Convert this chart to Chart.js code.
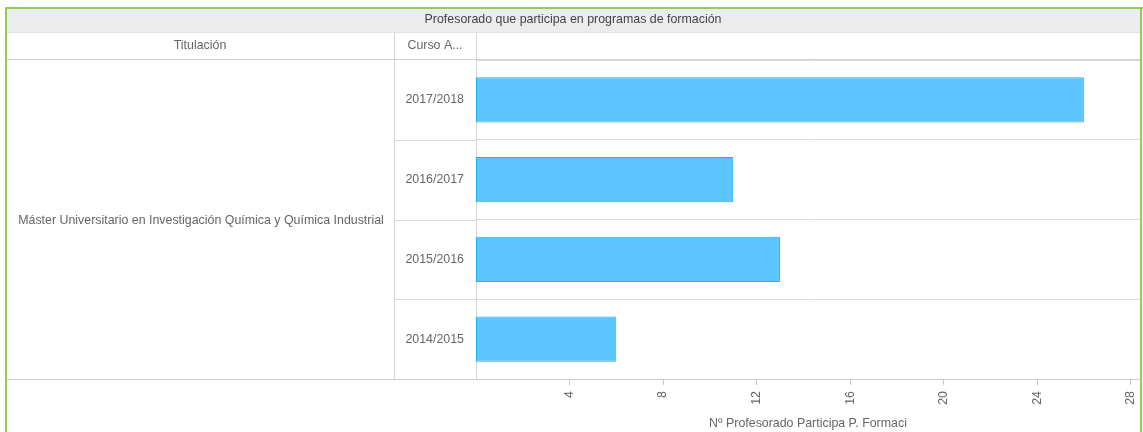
<!DOCTYPE html>
<html>
<head>
<meta charset="utf-8">
<script src="https://cdn.jsdelivr.net/npm/chart.js@4"></script>
<style>
  html, body { margin: 0; padding: 0; background: #fff; }
  #wrap { position: relative; width: 1143px; height: 432px; overflow: hidden; }
  canvas { position: absolute; left: 0; top: 0; }
</style>
</head>
<body>
<div id="wrap"><canvas id="chart" width="1143" height="432"></canvas></div>
<script>
// Data
var chartTitle = 'Profesorado que participa en programas de formación';
var titulacion = 'Máster Universitario en Investigación Química y Química Industrial';
var cursos = ['2017/2018', '2016/2017', '2015/2016', '2014/2015'];
var profesorado = [26, 11, 13, 6];
var xTicks = [4, 8, 12, 16, 20, 24, 28];
var xTitle = 'Nº Profesorado Participa P. Formaci';

var FONT = '"Liberation Sans", Arial, sans-serif';
var FSIZE = 12.4;
var TEXT = '#666';

// draws the table frame around the chart (header band, column lines, label cell)
var tablePlugin = {
    id: 'tableFrame',
    beforeDraw: function (chart) {
        var ctx = chart.ctx;
        var area = chart.chartArea;
        var y = chart.scales.y;
        var colA = 394, colB = area.left;
        ctx.save();
        // title band
        ctx.fillStyle = '#ececec';
        ctx.fillRect(6, 9, 1135, 23);
        ctx.fillStyle = '#e2e2e2';
        ctx.fillRect(6, 32, 1135, 1);
        // header row bottom line
        ctx.fillStyle = '#d0d0d0';
        ctx.fillRect(6, 59, 1135, 1);
        // column separators
        ctx.fillStyle = '#d4d4d4';
        ctx.fillRect(colA, 33, 1, area.bottom - 33);
        ctx.fillRect(colB, 33, 1, area.bottom - 33);
        // row separators in Curso column
        var n = cursos.length;
        var h = (y.bottom - y.top) / n;
        for (var i = 1; i < n; i++) {
            ctx.fillStyle = '#d8d8d8';
            ctx.fillRect(colA, Math.round(y.top + i * h), colB - colA, 1);
        }
        // full-width axis line
        ctx.fillStyle = '#cfcfcf';
        ctx.fillRect(6, area.bottom, 1135, 1);
        // texts
        ctx.font = FSIZE + 'px ' + FONT;
        ctx.textBaseline = 'middle';
        ctx.textAlign = 'center';
        ctx.fillStyle = '#444';
        ctx.fillText(chartTitle, 573, 20);
        ctx.fillStyle = TEXT;
        ctx.fillText('Titulación', (6 + colA) / 2, 46);
        ctx.fillText('Curso A...', (colA + colB) / 2, 46);
        ctx.fillText(titulacion, (6 + colA) / 2 + 1, (y.top + y.bottom) / 2 + 1);
        // green outer border
        ctx.fillStyle = '#8dcf55';
        ctx.fillRect(5, 7, 1138, 2);
        ctx.fillRect(5, 7, 2, 432);
        ctx.fillRect(1140, 7, 2, 432);
        ctx.restore();
    }
};

new Chart(document.getElementById('chart'), {
    type: 'bar',
    data: {
        labels: cursos,
        datasets: [{
            data: profesorado,
            backgroundColor: '#5cc5fd',
            borderColor: '#22aef4',
            borderWidth: 1,
            borderSkipped: false,
            barPercentage: 0.57,
            categoryPercentage: 1
        }]
    },
    plugins: [tablePlugin],
    options: {
        indexAxis: 'y',
        responsive: false,
        animation: false,
        devicePixelRatio: 1,
        layout: { padding: { left: 394, top: 60, right: 3, bottom: 0 } },
        plugins: { legend: { display: false }, tooltip: { enabled: false } },
        scales: {
            x: {
                min: 0,
                max: 28.4,
                afterBuildTicks: function (scale) {
                    scale.ticks = xTicks.map(function (v) { return { value: v }; });
                },
                afterFit: function (scale) {
                    scale.height = 53;
                    scale.paddingLeft = 0;
                    scale.paddingRight = 0;
                },
                grid: { drawOnChartArea: false, drawTicks: true, tickLength: 6, color: '#ccc' },
                border: { display: true, color: '#ccc' },
                ticks: {
                    minRotation: 90, maxRotation: 90, padding: 6,
                    color: TEXT, font: { family: FONT, size: FSIZE }
                },
                title: {
                    display: true, text: xTitle, color: TEXT,
                    font: { family: FONT, size: FSIZE }, padding: { top: 2, bottom: 1 }
                }
            },
            y: {
                offset: true,
                afterFit: function (scale) { scale.width = 82; },
                grid: { offset: true, drawTicks: false, color: '#d8d8d8' },
                border: { display: true, color: '#d4d4d4' },
                ticks: {
                    crossAlign: 'center', padding: 12,
                    color: TEXT, font: { family: FONT, size: FSIZE }
                }
            }
        }
    }
});
</script>
</body>
</html>
